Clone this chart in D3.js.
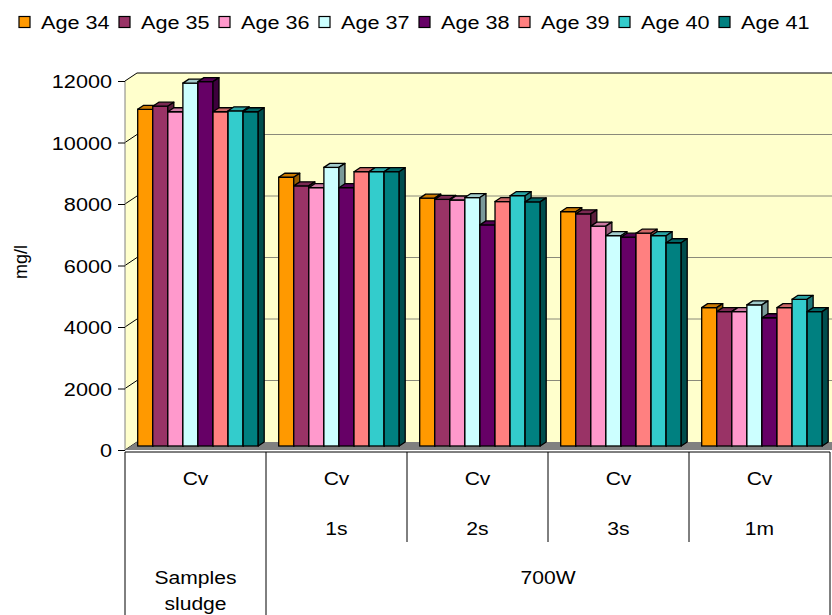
<!DOCTYPE html>
<html>
<head>
<meta charset="utf-8">
<script src="https://cdn.jsdelivr.net/npm/d3@7/dist/d3.min.js"></script>
<style>
  html, body { margin: 0; padding: 0; background: #fff; }
  svg { display: block; font-family: "Liberation Sans", Arial, sans-serif; }
</style>
</head>
<body>
<svg id="chart" width="832" height="615"></svg>
<script>
// Categories (table rows under the plot)
const catRow1 = ["Cv", "Cv", "Cv", "Cv", "Cv"];
const catRow2 = ["", "1s", "2s", "3s", "1m"];
const groupLabels = [
  { text: ["Samples", "sludge"], from: 0, to: 0 },
  { text: ["700W"], from: 1, to: 4 }
];

// Series
const seriesNames = ["Age 34", "Age 35", "Age 36", "Age 37", "Age 38", "Age 39", "Age 40", "Age 41"];
const seriesColors = ["#FF9900", "#993366", "#FF99CC", "#CCFFFF", "#660066", "#FF8080", "#33CCCC", "#008080"];

const age34 = [10950, 8740, 8060, 7620, 4500];
const age35 = [11050, 8460, 8020, 7550, 4370];
const age36 = [10870, 8400, 8000, 7150, 4370];
const age37 = [11800, 9060, 8080, 6840, 4590];
const age38 = [11850, 8400, 7190, 6790, 4170];
const age39 = [10870, 8920, 7950, 6920, 4500];
const age40 = [10900, 8920, 8140, 6840, 4770];
const age41 = [10870, 8920, 7940, 6610, 4370];
const seriesValues = [age34, age35, age36, age37, age38, age39, age40, age41];

const yTicks = [0, 2000, 4000, 6000, 8000, 10000, 12000];
const yLabel = "mg/l";

// Layout
const svg = d3.select("#chart");
const pLeft = 125, pRight = 830, pBottom = 450, pTop = 81;
const wallDx = 12, wallDy = -8;     // depth of the walls
const barDx = 6, barDy = -4;        // depth of each column
const wallRight = 840;
const stretch = 1.14;               // text is drawn slightly wide

// Text helper: places a horizontally stretched label at (x, y)
function label(parent, x, y, str, size, anchor) {
  return parent.append("text")
    .attr("transform", `translate(${x},${y}) scale(${stretch},1)`)
    .attr("text-anchor", anchor || "middle")
    .style("font-size", size + "px")
    .text(str);
}

const y = d3.scaleLinear().domain([0, 12000]).range([pBottom, pTop]);
const x0 = d3.scaleBand().domain(d3.range(catRow1.length)).range([pLeft, pRight]).paddingInner(0).paddingOuter(0);
const x1 = d3.scaleBand().domain(d3.range(seriesNames.length)).range([0, 120.5]).padding(0);
const groupOffset = 12.7;

// Side wall
svg.append("polygon")
  .attr("points", [[pLeft, pBottom], [pLeft, pTop], [pLeft + wallDx, pTop + wallDy], [pLeft + wallDx, pBottom + wallDy]].join(" "))
  .attr("fill", "#FFFFCC");

// Back wall
svg.append("rect")
  .attr("x", pLeft + wallDx).attr("y", y(12000) + wallDy)
  .attr("width", wallRight - pLeft - wallDx).attr("height", y(0) - y(12000))
  .attr("fill", "#FFFFCC");

// Gridlines on the back wall and diagonals on the side wall
yTicks.forEach(t => {
  const yy = y(t);
  if (t > 0) {
    svg.append("line")
      .attr("x1", pLeft + wallDx).attr("x2", wallRight)
      .attr("y1", yy + wallDy).attr("y2", yy + wallDy)
      .attr("stroke", t === 12000 ? "#000" : "#8a8a7a").attr("stroke-width", 1);
  }
  svg.append("line")
    .attr("x1", pLeft).attr("y1", yy)
    .attr("x2", pLeft + wallDx).attr("y2", yy + wallDy)
    .attr("stroke", "#000").attr("stroke-width", 1);
});

// Floor
svg.append("polygon")
  .attr("points", [[pLeft, pBottom], [pLeft + wallDx, pBottom + wallDy], [wallRight, pBottom + wallDy], [wallRight, pBottom]].join(" "))
  .attr("fill", "#808080");

// Vertical axis
svg.append("line")
  .attr("x1", pLeft).attr("x2", pLeft).attr("y1", pTop).attr("y2", pBottom)
  .attr("stroke", "#808080");

const yAxis = d3.axisLeft(y).tickValues(yTicks).tickSize(7).tickPadding(6).tickFormat(d3.format("d"));
const yg = svg.append("g").attr("transform", `translate(${pLeft},0)`).call(yAxis);
yg.attr("font-size", 19).attr("font-family", null);
yg.select(".domain").remove();
yg.selectAll(".tick line").attr("stroke", "#000");
yg.selectAll(".tick text")
  .attr("fill", "#000")
  .attr("x", null)
  .attr("dy", "0.35em")
  .attr("transform", `translate(-13,0) scale(${stretch},1)`);

svg.append("text")
  .attr("transform", "translate(27,262) rotate(-90)")
  .attr("text-anchor", "middle")
  .style("font-size", "18px")
  .text(yLabel);

// Columns
const shade = (c, k) => { const r = d3.rgb(c); return d3.rgb(r.r * k, r.g * k, r.b * k).toString(); };

catRow1.forEach((_, ci) => {
  const g = svg.append("g");
  seriesValues.forEach((vals, si) => {
    const v = vals[ci];
    const bx = x0(ci) + groupOffset + x1(si);
    const bw = x1.bandwidth();
    const by = y(v) + barDy;
    const bb = y(0) + barDy;
    const col = seriesColors[si];
    // front
    g.append("rect")
      .attr("x", bx).attr("y", by).attr("width", bw).attr("height", bb - by)
      .attr("fill", col).attr("stroke", "#000").attr("stroke-width", 1.3);
    // top
    g.append("polygon")
      .attr("points", [[bx, by], [bx + barDx, by + barDy], [bx + bw + barDx, by + barDy], [bx + bw, by]].join(" "))
      .attr("fill", shade(col, 0.8)).attr("stroke", "#000").attr("stroke-width", 1.3).attr("stroke-linejoin", "round");
    // side
    g.append("polygon")
      .attr("points", [[bx + bw, by], [bx + bw + barDx, by + barDy], [bx + bw + barDx, bb + barDy], [bx + bw, bb]].join(" "))
      .attr("fill", shade(col, 0.6)).attr("stroke", "#000").attr("stroke-width", 1.3).attr("stroke-linejoin", "round");
  });
});

// Data table below the plot
const tableTop = 452;
const tableSize = 18.5;
svg.append("line").attr("x1", pLeft).attr("x2", pRight).attr("y1", tableTop).attr("y2", tableTop).attr("stroke", "#000");
svg.append("line").attr("x1", pLeft).attr("x2", pLeft).attr("y1", tableTop).attr("y2", 615).attr("stroke", "#000");
svg.append("line").attr("x1", pRight).attr("x2", pRight).attr("y1", tableTop).attr("y2", 615).attr("stroke", "#000");
groupLabels.forEach(gl => {
  if (gl.from > 0) {
    svg.append("line").attr("x1", x0(gl.from)).attr("x2", x0(gl.from))
      .attr("y1", tableTop).attr("y2", 615).attr("stroke", "#000");
  }
  const cx = (x0(gl.from) + x0(gl.to) + x0.bandwidth()) / 2;
  gl.text.forEach((t, i) => label(svg, cx, 584 + i * 26, t, tableSize));
});
catRow1.forEach((_, ci) => {
  if (ci > 1) {
    svg.append("line").attr("x1", x0(ci)).attr("x2", x0(ci))
      .attr("y1", tableTop).attr("y2", 542).attr("stroke", "#000");
  }
  const cx = x0(ci) + x0.bandwidth() / 2;
  label(svg, cx, 485, catRow1[ci], tableSize);
  if (catRow2[ci]) label(svg, cx, 535, catRow2[ci], tableSize);
});

// Legend
const legend = svg.append("g").attr("transform", "translate(0,22)");
seriesNames.forEach((name, i) => {
  const lx = 19 + i * 100;
  legend.append("rect").attr("x", lx).attr("y", -5.5).attr("width", 11).attr("height", 11)
    .attr("fill", seriesColors[i]).attr("stroke", "#000").attr("stroke-width", 1.2);
  label(legend, lx + 22, 7, name, 19, "start");
});
</script>
</body>
</html>
